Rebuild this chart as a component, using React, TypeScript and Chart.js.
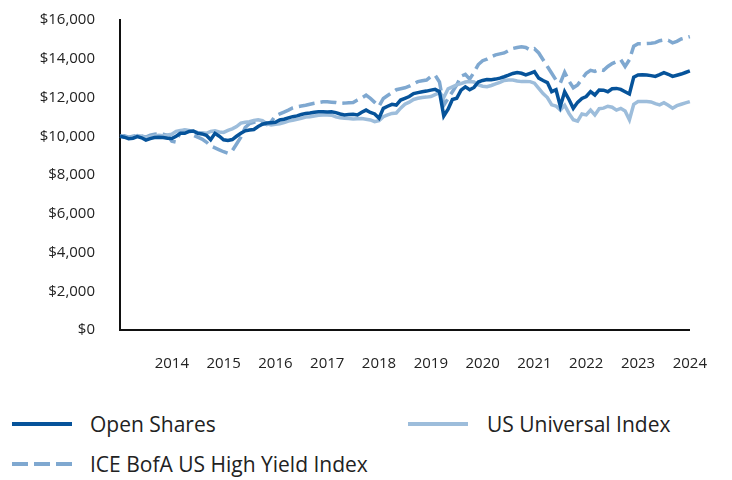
import React, { useEffect, useRef } from 'react';
import { Chart, registerables } from 'chart.js';

Chart.register(...registerables);

// ---- data (monthly values, growth of $10,000) ----
const tickYears = ['2014', '2015', '2016', '2017', '2018', '2019', '2020', '2021', '2022', '2023', '2024'];

const openShares = [
  10000, 9950, 9870, 9900, 9980, 9920, 9800, 9880, 9930, 9950, 9930, 9900,
  9880, 10000, 10150, 10150, 10250, 10270, 10150, 10120, 10050, 9820, 10150, 10000,
  9820, 9780, 9830, 10000, 10150, 10280, 10320, 10350, 10500, 10620, 10680, 10700,
  10720, 10840, 10880, 10950, 11010, 11050, 11120, 11180, 11200, 11240, 11260, 11270,
  11250, 11260, 11220, 11150, 11100, 11120, 11130, 11100, 11240, 11350, 11230, 11150,
  10930, 11440, 11550, 11650, 11610, 11870, 11960, 12050, 12200, 12250, 12300, 12330,
  12380, 12420, 12300, 11050, 11400, 11900, 11960, 12380, 12550, 12400, 12520, 12800,
  12880, 12930, 12920, 12950, 13000, 13070, 13150, 13240, 13290, 13250, 13170, 13250,
  13330, 13000, 12880, 12770, 12300, 12400, 11550, 12300, 11900, 11440, 11750, 11950,
  12050, 12300, 12130, 12390, 12380, 12300, 12450, 12470, 12420, 12300, 12180, 13050,
  13160, 13170, 13160, 13130, 13090, 13180, 13280, 13200, 13090, 13150, 13210, 13290,
  13370,
];

const usUniversal = [
  10000, 9980, 9920, 9960, 10040, 10000, 9920, 9980, 10020, 10050, 10030, 10060,
  10100, 10250, 10300, 10320, 10300, 10250, 10200, 10180, 10150, 10250, 10280, 10220,
  10200, 10300, 10380, 10500, 10680, 10720, 10750, 10820, 10850, 10800, 10650, 10580,
  10620, 10650, 10700, 10780, 10820, 10870, 10920, 10990, 11010, 11050, 11080, 11100,
  11100, 11090, 11000, 10950, 10930, 10920, 10890, 10900, 10910, 10880, 10840, 10750,
  10800, 11010, 11100, 11180, 11200, 11450, 11650, 11760, 11900, 11960, 12000, 12020,
  12050, 12150, 12250, 12000, 12450, 12550, 12650, 12720, 12800, 12830, 12800, 12650,
  12580, 12560, 12620, 12700, 12780, 12880, 12900, 12900, 12850, 12820, 12830, 12820,
  12740, 12470, 12200, 12000, 11620, 11560, 11350, 11600, 11180, 10850, 10780, 11150,
  11100, 11350, 11100, 11420, 11450, 11550, 11500, 11350, 11440, 11300, 10850, 11650,
  11790, 11790, 11790, 11770, 11680, 11620, 11730, 11600, 11450, 11580, 11650, 11720,
  11790,
];

const iceHighYield = [
  10000, 10020, 9950, 10000, 10050, 10020, 9950, 10050, 10100, 10120, 10100, 10050,
  9750, 9700, 10250, 10320, 10280, 10050, 9950, 9850, 9700, 9500, 9400, 9300,
  9200, 9120, 9250, 9600, 9950, 10450, 10650, 10720, 10780, 10700, 10600, 10750,
  11050, 11150, 11250, 11350, 11460, 11520, 11560, 11600, 11650, 11700, 11740, 11780,
  11780, 11760, 11740, 11700, 11710, 11730, 11740, 11870, 11980, 12120, 11950, 11750,
  11550, 11950, 12100, 12250, 12400, 12450, 12500, 12580, 12700, 12820, 12860, 12900,
  13080, 13150, 12800, 11600, 11950, 12300, 12650, 13100, 13200, 12950, 13300, 13700,
  13900, 13980, 14100, 14200, 14250, 14300, 14420, 14530, 14580, 14620, 14580, 14450,
  14520, 14300, 13950, 13600, 13250, 12900, 12750, 13300, 12850, 12500, 12650, 12950,
  13250, 13400, 13350, 13450, 13400, 13600, 13750, 13850, 13950, 13600, 13950, 14650,
  14780, 14780, 14790, 14800, 14830, 14930, 14970, 14950, 14820, 14900, 15020, 15080,
  15140,
];

const monthNames = ['Jan', 'Feb', 'Mar', 'Apr', 'May', 'Jun', 'Jul', 'Aug', 'Sep', 'Oct', 'Nov', 'Dec'];
const categories: string[] = openShares.map((_, i) => {
  const m = (11 + i) % 12;
  const y = 2013 + Math.floor((11 + i) / 12);
  return `${monthNames[m]} ${y}`;
});

const DARK = '#06539a';
const LIGHT = '#9dbddb';
const DASH = '#7fa8d0';
const FONT = "'Open Sans', 'DejaVu Sans', sans-serif";

export default function App() {
  const ref = useRef<HTMLCanvasElement | null>(null);

  useEffect(() => {
    if (!ref.current) return;
    const chart = new Chart(ref.current, {
      type: 'line',
      data: {
        labels: categories,
        datasets: [
          {
            label: 'Open Shares',
            data: openShares,
            borderColor: DARK,
            borderWidth: 3.5,
            pointRadius: 0,
            tension: 0,
          },
          {
            label: 'US Universal Index',
            data: usUniversal,
            borderColor: LIGHT,
            borderWidth: 3.5,
            pointRadius: 0,
            tension: 0,
          },
          {
            label: 'ICE BofA US High Yield Index',
            data: iceHighYield,
            borderColor: DASH,
            borderWidth: 3.5,
            borderDash: [16, 6],
            pointRadius: 0,
            tension: 0,
          },
        ],
      },
      options: {
        responsive: false,
        animation: false,
        devicePixelRatio: 1,
        layout: { padding: { left: 0, right: 40, top: 20, bottom: 0 } },
        plugins: {
          legend: { display: false },
          title: { display: false },
          tooltip: { enabled: false },
        },
        scales: {
          x: {
            type: 'category',
            offset: false,
            grid: { display: false, drawTicks: false },
            border: { display: true, color: '#111', width: 2 },
            afterFit: (s: any) => { s.height = 60; s.paddingTop = 0; },
            ticks: {
              autoSkip: false,
              maxRotation: 0,
              minRotation: 0,
              padding: 25,
              color: '#222',
              font: { family: FONT, size: 15 },
              callback: (_v: any, idx: number) =>
                idx > 0 && idx % 12 === 0 ? tickYears[idx / 12 - 1] : null,
            },
          },
          y: {
            min: 0,
            max: 16000,
            grid: { display: false, drawTicks: false },
            border: { display: true, color: '#111', width: 2 },
            afterFit: (s: any) => { s.width = 120; s.paddingTop = 0; s.paddingBottom = 0; },
            ticks: {
              stepSize: 2000,
              padding: 25,
              color: '#222',
              font: { family: FONT, size: 15 },
              callback: (v: any) => '$' + Number(v).toLocaleString('en-US'),
            },
          },
        },
      },
    });
    return () => chart.destroy();
  }, []);

  const textStyle: React.CSSProperties = {
    position: 'absolute',
    fontFamily: FONT,
    fontSize: 21,
    color: '#222',
    lineHeight: '24px',
    whiteSpace: 'nowrap',
  };
  const lineStyle = (top: number, left: number, bg: string): React.CSSProperties => ({
    position: 'absolute',
    top,
    left,
    width: 60,
    height: 4,
    background: bg,
  });

  return (
    <div style={{ position: 'absolute', left: 0, top: 0, width: 732, height: 480, background: '#fff' }}>
      <canvas ref={ref} width={732} height={390} style={{ position: 'absolute', left: 0, top: 0, width: 732, height: 390 }} />
      <div style={lineStyle(422, 12, DARK)} />
      <div style={{ ...textStyle, left: 90, top: 412 }}>Open Shares</div>
      <div style={lineStyle(422, 408, LIGHT)} />
      <div style={{ ...textStyle, left: 487, top: 412 }}>US Universal Index</div>
      <div
        style={lineStyle(
          462,
          12,
          `repeating-linear-gradient(to right, ${DASH} 0px, ${DASH} 16px, transparent 16px, transparent 22px)`
        )}
      />
      <div style={{ ...textStyle, left: 90, top: 452 }}>ICE BofA US High Yield Index</div>
    </div>
  );
}
